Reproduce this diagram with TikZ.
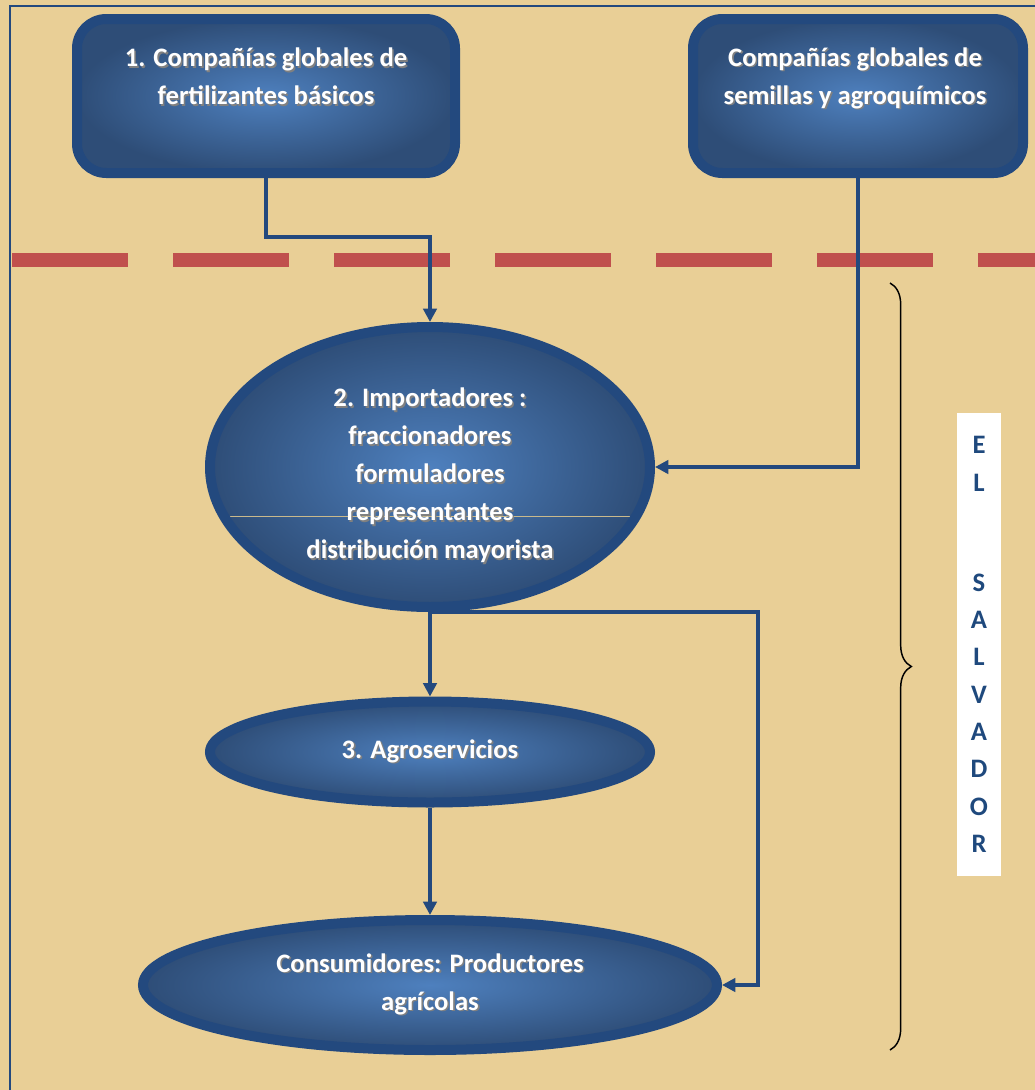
\documentclass[tikz,border=0pt]{standalone}
\usepackage{fontspec}
\setmainfont{Carlito}
\usetikzlibrary{arrows.meta,shapes.geometric,decorations.pathreplacing}

\definecolor{papyrus}{HTML}{E9CF96}
\definecolor{edgeblue}{HTML}{23497E}
\definecolor{lightblue}{HTML}{4E80BE}
\definecolor{darkblue}{HTML}{2E4D77}
\definecolor{dashred}{HTML}{C0504D}
\definecolor{letterblue}{HTML}{1F497D}
\definecolor{seam}{HTML}{C9B98C}

\newcommand{\boxfont}{\bfseries\fontsize{20}{28.5}\selectfont}
\newcommand{\shtext}[1]{\leavevmode\rlap{\hspace{1.2pt}\raisebox{-1.2pt}{\color{black!50}#1}}#1}

\begin{document}
\begin{tikzpicture}[x=0.75pt,y=-0.75pt,
  bluebox/.style={rectangle, draw=edgeblue, line width=7.5pt, rounded corners=22pt,
    inner color=lightblue, outer color=darkblue},
  blueoval/.style={ellipse, draw=edgeblue, line width=7.5pt, inner color=lightblue,
    outer color=darkblue, text=white, font=\boxfont, align=center, inner sep=0pt},
  boxtext/.style={text=white, font=\boxfont, align=center, inner sep=0pt},
  link/.style={draw=edgeblue, line width=3pt, -{Triangle[length=10pt,width=10pt]}},
]
% Papyrus background and page size
\fill[papyrus] (0,0) rectangle (1035,1090);
\useasboundingbox (0,0) rectangle (1035,1090);
\draw[edgeblue, line width=1.5pt] (10,6) rectangle (1060,1110);

% Border line between global level and El Salvador
\draw[dashred, line width=10.5pt, dash pattern=on 87pt off 33.75pt] (12,260) -- (1045,260);

% Global companies
\node[bluebox, minimum width=283.5pt, minimum height=115.5pt] (fert) at (266,96) {};
\node[boxtext] (ferttext) at (266,77) {\shtext{1. Compañías globales de}\\\shtext{fertilizantes básicos}};
\node[bluebox, minimum width=247.5pt, minimum height=115.5pt] (seed) at (858,96) {};
\node[boxtext] (seedtext) at (855,79) {\shtext{Compañías globales de}\\\shtext{semillas y agroquímicos}};

% Chain inside the country
\node[blueoval, minimum width=330pt, minimum height=210pt,
  path picture={\draw[seam, line width=0.7pt]
    ([shift={(-202,49)}]path picture bounding box.center) -- ([shift={(200,49)}]path picture bounding box.center);}]
  (imp) at (430,467) {};
\node[boxtext] (imptext) at (430,476) {\shtext{2. Importadores :}\\\shtext{fraccionadores}\\\shtext{formuladores}\\\shtext{representantes}\\\shtext{distribución mayorista}};
\node[blueoval, minimum width=330pt, minimum height=75.75pt] (agro) at (430,752) {\shtext{3. Agroservicios}};
\node[blueoval, minimum width=430.5pt, minimum height=97.5pt] (cons) at (430,985) {\shtext{Consumidores: Productores}\\\shtext{agrícolas}};

% Connectors
\draw[link] (fert.south) -- ++(0,59) -| (imp.north);
\draw[link] (seed.south) |- (imp.east);
\draw[link] (imp.south) -- (agro.north);
\draw[link] (agro.south) -- (cons.north);
\draw[link] (imp.south) -- ++(328,0) |- (cons.east);

% Brace and country name
\coordinate (brtop) at (890,283);
\coordinate (brbot) at (890,1050);
\draw[line width=1.1pt, decorate, decoration={brace, amplitude=16pt}] (brtop) -- (brbot);
\node[fill=white, minimum width=33pt, minimum height=347pt, inner sep=0pt, text=letterblue,
  font=\bfseries\fontsize{20}{28}\selectfont, align=center] (country) at (979,644.5)
  {E\\L\\[47pt]S\\A\\L\\V\\A\\D\\O\\R};
\end{tikzpicture}
\end{document}
